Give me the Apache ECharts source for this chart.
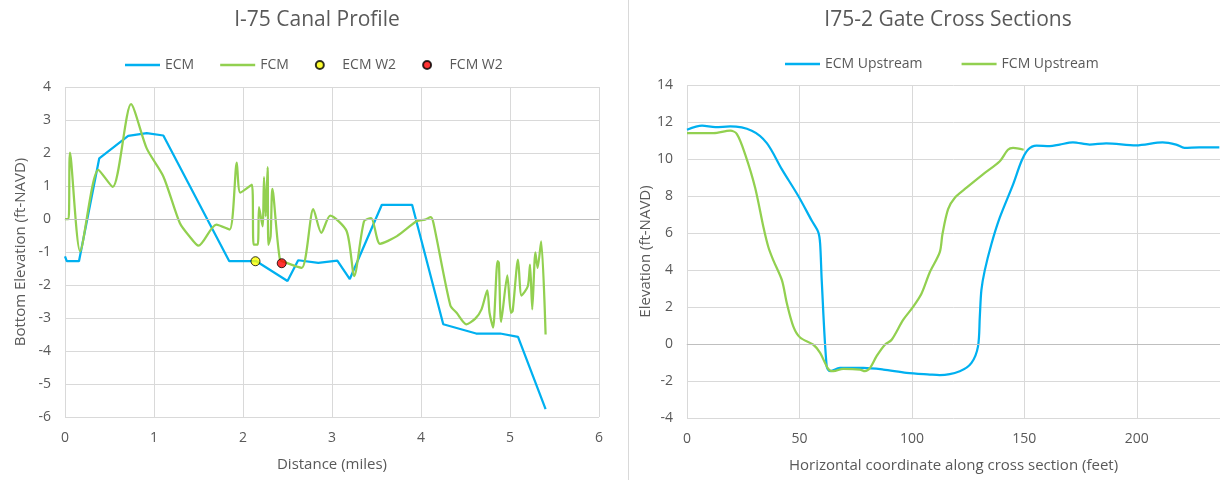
<!DOCTYPE html>
<html>
<head>
<meta charset="utf-8">
<script src="https://cdn.jsdelivr.net/npm/echarts@6/dist/echarts.min.js"></script>
<style>html,body{margin:0;padding:0;background:#fff}#c{width:1220px;height:480px}</style>
</head>
<body>
<div id="c"></div>
<script>
// ---- Left chart: I-75 Canal Profile ----
var ecmDist = [0, 0.02, 0.157, 0.385, 0.71, 0.918, 1.105, 1.846, 2.15, 2.50, 2.62, 2.846, 3.06, 3.20, 3.56, 3.90, 4.25, 4.62, 4.89, 5.09, 5.40];
var ecmElev = [-1.13, -1.28, -1.28, 1.84, 2.52, 2.6, 2.53, -1.28, -1.28, -1.88, -1.25, -1.33, -1.26, -1.82, 0.43, 0.43, -3.19, -3.47, -3.47, -3.57, -5.76];
var fcmDist = [0, 0.04, 0.056, 0.17, 0.374, 0.536, 0.742, 0.918, 1.105, 1.29, 1.40, 1.50, 1.70, 1.85, 1.93, 1.97, 2.10, 2.12, 2.165, 2.18, 2.22, 2.236, 2.255, 2.277, 2.285, 2.31, 2.33, 2.415, 2.49, 2.66, 2.79, 2.88, 2.98, 3.165, 3.25, 3.36, 3.44, 3.54, 3.73, 3.95, 4.045, 4.11, 4.14, 4.33, 4.40, 4.51, 4.61, 4.68, 4.745, 4.77, 4.81, 4.86, 4.875, 4.90, 4.97, 5.01, 5.03, 5.09, 5.13, 5.20, 5.225, 5.25, 5.285, 5.31, 5.35, 5.40];
var fcmElev = [0, 0, 2.01, -0.98, 1.49, 0.97, 3.48, 2.14, 1.29, -0.12, -0.53, -0.81, -0.17, -0.32, 1.71, 0.80, 1.04, -0.78, -0.78, 0.36, -0.22, 1.27, 0.08, 1.57, -0.78, -0.53, 0.91, -1.23, -1.33, -1.48, 0.30, -0.42, 0.10, -0.37, -1.73, -0.07, 0.03, -0.75, -0.52, -0.07, -0.02, 0.06, -0.12, -2.62, -2.84, -3.19, -3.02, -2.74, -2.16, -2.84, -3.29, -1.28, -1.33, -3.12, -1.71, -2.84, -2.79, -1.23, -2.32, -2.04, -1.38, -2.74, -1.01, -1.48, -0.68, -3.50];
var ecmW2 = [2.14, -1.28];
var fcmW2 = [2.435, -1.34];
var leftYTicks = [-6, -5, -4, -3, -2, -1, 0, 1, 2, 3, 4];
var leftXTicks = [0, 1, 2, 3, 4, 5, 6];

// ---- Right chart: I75-2 Gate Cross Sections ----
var ecmUpX = [0, 6.7, 12.6, 19.2, 28.8, 35.5, 42.2, 49.5, 55.5, 58.4, 59.2, 59.9, 62.1, 63.6, 68, 78.4, 87.3, 97.6, 108, 112.4, 121.3, 126.5, 129.4, 130.2, 130.9, 132.4, 135.4, 139.1, 145, 148.7, 151.6, 155.4, 161.3, 165.7, 171.6, 179, 186.4, 199.7, 211.5, 217.5, 221.2, 227.8, 236.7];
var ecmUpY = [11.58, 11.8, 11.72, 11.76, 11.53, 10.86, 9.44, 8.0, 6.66, 6.04, 5.42, 3.45, -1.2, -1.47, -1.29, -1.29, -1.38, -1.56, -1.65, -1.68, -1.47, -1.02, -0.13, 1.48, 2.91, 3.98, 5.42, 6.84, 8.63, 9.88, 10.5, 10.72, 10.69, 10.78, 10.9, 10.78, 10.85, 10.74, 10.9, 10.78, 10.6, 10.63, 10.63];
var fcmUpX = [0, 11.8, 19.2, 22.2, 25.9, 30.3, 34, 36.2, 38.4, 42.2, 44.4, 47.3, 50.3, 56.2, 59.2, 62.8, 65.1, 69.5, 76.9, 79.1, 81.4, 84.3, 88, 91, 96.1, 100.6, 104.3, 108, 112.4, 113.6, 116.1, 119.1, 124.3, 131.6, 139.1, 142.7, 145, 149.7];
var fcmUpY = [11.4, 11.4, 11.53, 11.35, 10.24, 8.45, 6.31, 5.23, 4.52, 3.45, 2.2, 0.94, 0.35, -0.04, -0.48, -1.34, -1.47, -1.34, -1.38, -1.47, -1.29, -0.66, -0.04, 0.23, 1.3, 2.02, 2.73, 3.89, 4.97, 5.95, 7.29, 7.91, 8.45, 9.17, 9.88, 10.5, 10.6, 10.5];
var rightYTicks = [-4, -2, 0, 2, 4, 6, 8, 10, 12, 14];
var rightXTicks = [0, 50, 100, 150, 200];

function zip(a, b) { return a.map(function (v, i) { return [v, b[i]]; }); }

var FONT = '"Open Sans", "Liberation Sans", sans-serif';
var TXT = '#595959';
var GRID = '#d9d9d9';
var LINE_ICON = 'path://M0,0H35V2.5H0Z';

function valueAxis(o) {
  return Object.assign({
    type: 'value',
    nameLocation: 'middle',
    nameTextStyle: { color: TXT, fontSize: 15, fontFamily: FONT },
    axisLine: { show: true, lineStyle: { color: GRID } },
    axisTick: { show: false },
    axisLabel: { color: TXT, fontSize: 14, fontFamily: FONT },
    splitLine: { show: true, lineStyle: { color: GRID, width: 1 } }
  }, o);
}

var zeroLine = {
  silent: true, symbol: 'none', label: { show: false },
  lineStyle: { color: '#bfbfbf', type: 'solid', width: 1 },
  data: [{ yAxis: 0 }]
};

var chart = echarts.init(document.getElementById('c'), null, { renderer: 'canvas' });
chart.setOption({
  animation: false,
  backgroundColor: '#fff',
  title: [
    { text: 'I-75 Canal Profile', left: 312, top: 5, textAlign: 'center',
      textStyle: { color: TXT, fontSize: 21, fontWeight: 'normal', fontFamily: FONT } },
    { text: 'I75-2 Gate Cross Sections', left: 943, top: 5, textAlign: 'center',
      textStyle: { color: TXT, fontSize: 21, fontWeight: 'normal', fontFamily: FONT } }
  ],
  legend: [
    { data: [{ name: 'ECM', icon: LINE_ICON }, { name: 'FCM', icon: LINE_ICON },
             { name: 'ECM W2', icon: 'circle' }, { name: 'FCM W2', icon: 'circle' }],
      left: 120, top: 53, itemWidth: 35, itemHeight: 8, itemGap: 26,
      textStyle: { color: TXT, fontSize: 14, fontFamily: FONT } },
    { data: [{ name: 'ECM Upstream', icon: LINE_ICON }, { name: 'FCM Upstream', icon: LINE_ICON }],
      left: 780, top: 52, itemWidth: 35, itemHeight: 8, itemGap: 39,
      textStyle: { color: TXT, fontSize: 14, fontFamily: FONT } }
  ],
  graphic: [
    { type: 'line', shape: { x1: 628.5, y1: 0, x2: 628.5, y2: 480 }, style: { stroke: '#d9d9d9', lineWidth: 1 } }
  ],
  grid: [
    { left: 65, right: 621, top: 87, bottom: 63 },
    { left: 687, right: 0, top: 85, bottom: 62 }
  ],
  xAxis: [
    valueAxis({ gridIndex: 0, min: leftXTicks[0], max: leftXTicks[leftXTicks.length - 1], interval: 1,
      name: 'Distance (miles)', nameGap: 40, axisLabel: { color: TXT, fontSize: 14, fontFamily: FONT, margin: 14 } }),
    valueAxis({ gridIndex: 1, min: rightXTicks[0], max: 237, interval: 50,
      name: 'Horizontal coordinate along cross section (feet)', nameGap: 40,
      axisLabel: { color: TXT, fontSize: 14, fontFamily: FONT, margin: 14, showMaxLabel: false } })
  ],
  yAxis: [
    valueAxis({ gridIndex: 0, min: leftYTicks[0], max: leftYTicks[leftYTicks.length - 1], interval: 1,
      name: 'Bottom Elevation (ft-NAVD)', nameGap: 37, axisLine: { show: false },
      axisLabel: { color: TXT, fontSize: 14, fontFamily: FONT, margin: 14 } }),
    valueAxis({ gridIndex: 1, min: rightYTicks[0], max: rightYTicks[rightYTicks.length - 1], interval: 2,
      name: 'Elevation (ft-NAVD)', nameGap: 34, axisLine: { show: false },
      axisLabel: { color: TXT, fontSize: 14, fontFamily: FONT, margin: 14 } })
  ],
  series: [
    { name: 'ECM', type: 'line', xAxisIndex: 0, yAxisIndex: 0, data: zip(ecmDist, ecmElev),
      symbol: 'none', color: '#00b0f0', lineStyle: { width: 2.25, color: '#00b0f0' }, markLine: zeroLine, z: 3 },
    { name: 'FCM', type: 'line', xAxisIndex: 0, yAxisIndex: 0, data: zip(fcmDist, fcmElev),
      symbol: 'none', smooth: 0.25, color: '#92d050', lineStyle: { width: 2.25, color: '#92d050' }, z: 3 },
    { name: 'ECM W2', type: 'scatter', xAxisIndex: 0, yAxisIndex: 0, data: [ecmW2], symbolSize: 9,
      itemStyle: { color: '#ffff00', borderColor: '#000', borderWidth: 1 }, z: 5 },
    { name: 'FCM W2', type: 'scatter', xAxisIndex: 0, yAxisIndex: 0, data: [fcmW2], symbolSize: 9,
      itemStyle: { color: '#ff0000', borderColor: '#000', borderWidth: 1 }, z: 5 },
    { name: 'ECM Upstream', type: 'line', xAxisIndex: 1, yAxisIndex: 1, data: zip(ecmUpX, ecmUpY),
      symbol: 'none', smooth: 0.3, color: '#00b0f0', lineStyle: { width: 2.25, color: '#00b0f0' }, markLine: zeroLine, z: 3 },
    { name: 'FCM Upstream', type: 'line', xAxisIndex: 1, yAxisIndex: 1, data: zip(fcmUpX, fcmUpY),
      symbol: 'none', smooth: 0.3, color: '#92d050', lineStyle: { width: 2.25, color: '#92d050' }, z: 3 }
  ]
});
</script>
</body>
</html>
